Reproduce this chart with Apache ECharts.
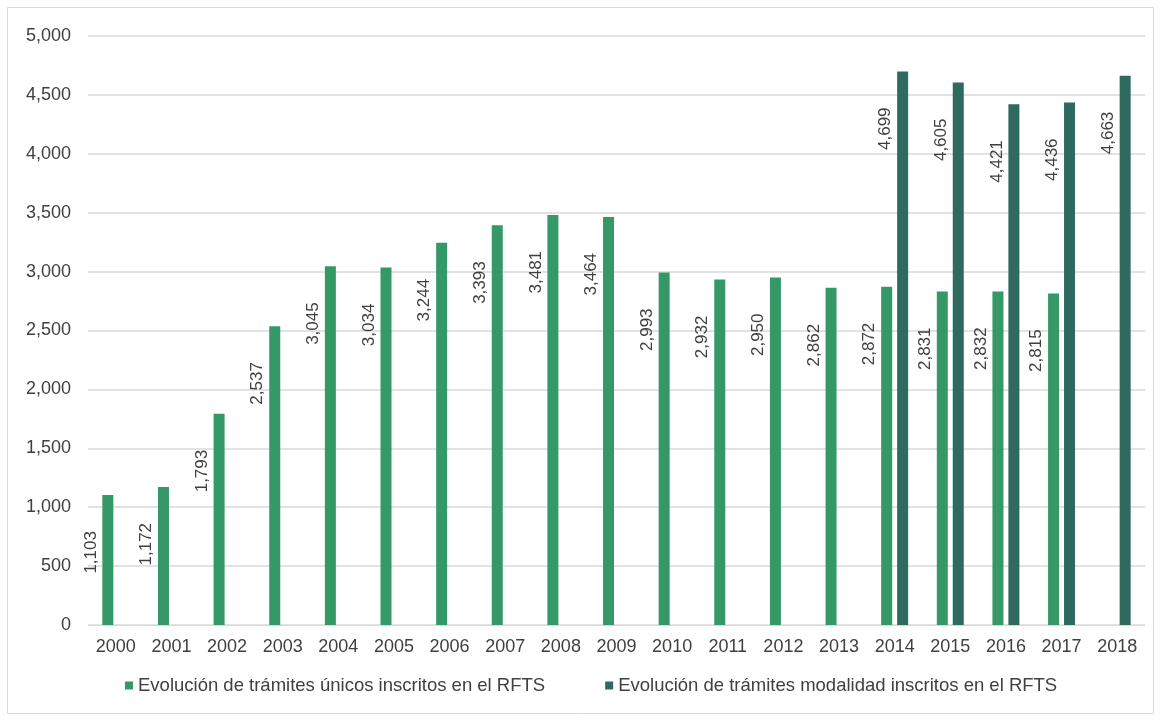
<!DOCTYPE html>
<html>
<head>
<meta charset="utf-8">
<script src="https://cdn.jsdelivr.net/npm/echarts@6/dist/echarts.min.js"></script>
<style>
html,body{margin:0;padding:0;background:#fff;}
#chart{width:1160px;height:721px;}
</style>
</head>
<body>
<div id="chart"></div>
<script>
const years = ['2000','2001','2002','2003','2004','2005','2006','2007','2008','2009','2010','2011','2012','2013','2014','2015','2016','2017','2018'];
const unicos = [1103,1172,1793,2537,3045,3034,3244,3393,3481,3464,2993,2932,2950,2862,2872,2831,2832,2815,null];
const modalidad = [null,null,null,null,null,null,null,null,null,null,null,null,null,null,4699,4605,4421,4436,4663];
const seriesNames = ['Evolución de trámites únicos inscritos en el RFTS','Evolución de trámites modalidad inscritos en el RFTS'];
const yMin = 0, yMax = 5000, yStep = 500;

const fmt = v => Number(v).toLocaleString('en-US');
const font = 'Liberation Sans, Arial, sans-serif';
const labelCfg = {
  show: true,
  position: [-3, 36],
  rotate: 90,
  align: 'right',
  verticalAlign: 'bottom',
  color: '#404040',
  fontSize: 17,
  fontFamily: font,
  formatter: p => fmt(p.value)
};

const chart = echarts.init(document.getElementById('chart'));
chart.setOption({
  animation: false,
  backgroundColor: '#fff',
  graphic: [{
    type: 'rect',
    shape: {x: 7.5, y: 7.5, width: 1146, height: 706},
    style: {fill: 'none', stroke: '#d9d9d9', lineWidth: 1},
    silent: true, z: -10
  }],
  grid: {left: 88, right: 15, top: 36, bottom: 96, containLabel: false},
  legend: {
    bottom: 21, left: 120,
    itemWidth: 8, itemHeight: 8, itemGap: 60,
    icon: 'rect',
    textStyle: {color: '#404040', fontSize: 18.5, fontFamily: font},
    data: seriesNames
  },
  xAxis: {
    type: 'category',
    data: years,
    axisLine: {lineStyle: {color: '#d9d9d9'}},
    axisTick: {show: false},
    axisLabel: {color: '#404040', fontSize: 18, fontFamily: font, margin: 13}
  },
  yAxis: {
    type: 'value',
    min: yMin, max: yMax, interval: yStep,
    axisLine: {show: false},
    axisTick: {show: false},
    splitLine: {lineStyle: {color: '#d9d9d9', width: 1.5}},
    axisLabel: {color: '#404040', fontSize: 18, fontFamily: font, margin: 17, formatter: v => fmt(v)}
  },
  series: [
    {
      name: seriesNames[0], type: 'bar', data: unicos,
      barWidth: 11, barGap: '45%',
      itemStyle: {color: '#349966'},
      label: labelCfg
    },
    {
      name: seriesNames[1], type: 'bar', data: modalidad,
      barWidth: 11,
      itemStyle: {color: '#2f6a5e'},
      label: labelCfg
    }
  ]
});
</script>
</body>
</html>
